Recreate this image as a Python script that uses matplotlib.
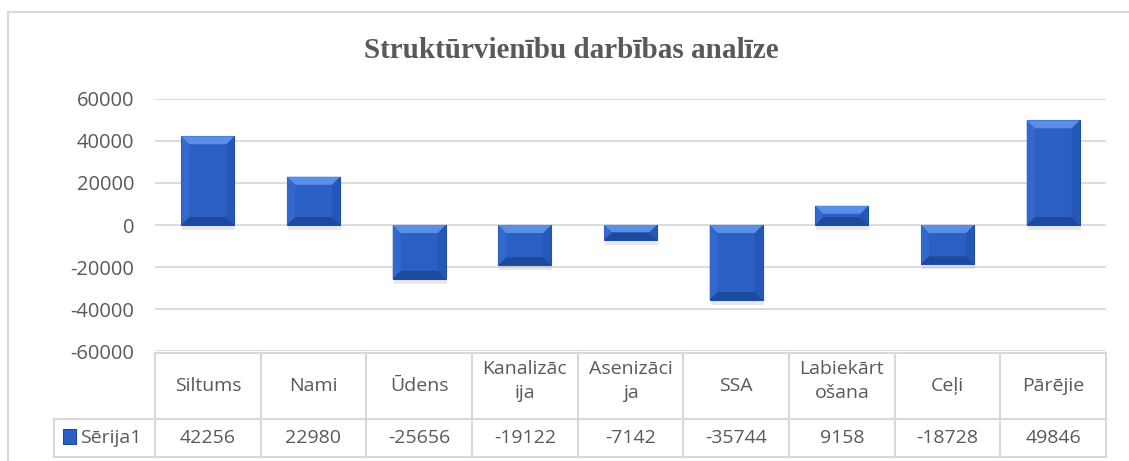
import matplotlib.pyplot as plt
import matplotlib.patches as patches
from matplotlib.lines import Line2D

plt.rcParams['axes.unicode_minus'] = False

# chart data
categories = ['Siltums', 'Nami', 'Ūdens', 'Kanalizāc\nija', 'Asenizāci\nja',
              'SSA', 'Labiekārt\nošana', 'Ceļi', 'Pārējie']
values = [42256, 22980, -25656, -19122, -7142, -35744, 9158, -18728, 49846]
series_name = 'Sērija1'
title = 'Struktūrvienību darbības analīze'
yticks = [-60000, -40000, -20000, 0, 20000, 40000, 60000]

W, H = 1129, 461
fig = plt.figure(figsize=(W / 100, H / 100), dpi=100)

# pixel helpers (top-left origin)
def fx(px):
    return px / W

def fy(py):
    return 1 - py / H

text_col = '#595959'
grid_col = '#D9D9D9'
fs = 14

left, right = 155, 1106
top, bottom = 99, 351
ax = fig.add_axes([fx(left), fy(bottom), fx(right - left), fy(top) - fy(bottom)])
n = len(categories)
ax.set_xlim(-0.5, n - 0.5)
ax.set_ylim(yticks[0], yticks[-1])
ax.set_yticks(yticks)
ax.set_xticks([])
ax.yaxis.grid(True, color=grid_col, linewidth=1.3)
ax.set_axisbelow(True)
for s in ax.spines.values():
    s.set_visible(False)
ax.tick_params(axis='y', length=0, pad=15, labelsize=14.5, labelcolor=text_col)
for lbl in ax.get_yticklabels():
    lbl.set_family('Open Sans')

# pixel -> data scale factors
px_x = 1.0 / ((right - left) / n)
px_y = (yticks[-1] - yticks[0]) / (bottom - top)

bw = 0.5
face = '#2C5FC4'
light = '#5A8FE8'
dark = '#1E4A9E'
edge = '#1E4FA8'

# shadows
for i, v in enumerate(values):
    y0 = min(0, v)
    h = abs(v)
    sh = patches.Rectangle((i - bw / 2 + 1 * px_x, y0 - 5 * px_y), bw, h,
                           facecolor='#BFBFBF', alpha=0.35, edgecolor='none', zorder=2)
    ax.add_patch(sh)

bars = ax.bar(range(n), values, width=bw, color=face, edgecolor=edge,
              linewidth=0.8, zorder=3)

# bevel effect
for i, v in enumerate(values):
    x0, x1 = i - bw / 2, i + bw / 2
    y0, y1 = min(0, v), max(0, v)
    by = min(8 * px_y, (y1 - y0) / 2)
    bx = 8 * px_x
    topb = patches.Polygon([(x0, y1), (x1, y1), (x1 - bx, y1 - by), (x0 + bx, y1 - by)],
                           closed=True, facecolor=light, edgecolor='none', zorder=4)
    botb = patches.Polygon([(x0, y0), (x1, y0), (x1 - bx, y0 + by), (x0 + bx, y0 + by)],
                           closed=True, facecolor=dark, edgecolor='none', zorder=4)
    lb = patches.Polygon([(x0, y0), (x0 + bx, y0 + by), (x0 + bx, y1 - by), (x0, y1)],
                         closed=True, facecolor='#3468CF', edgecolor='none', zorder=4)
    rb = patches.Polygon([(x1, y0), (x1 - bx, y0 + by), (x1 - bx, y1 - by), (x1, y1)],
                         closed=True, facecolor='#2557B6', edgecolor='none', zorder=4)
    for p in (lb, rb, topb, botb):
        ax.add_patch(p)

# title
fig.text(fx(571), fy(50), title, ha='center', va='center', fontsize=21,
         fontweight='bold', family='Liberation Serif', color=text_col)

# outer chart border
fig.add_artist(Line2D([fx(8), fx(8)], [fy(12), 0], color=grid_col, lw=1.5))
fig.add_artist(Line2D([fx(8), 1], [fy(12), fy(12)], color=grid_col, lw=1.5))

# data table
t_top, t_mid, t_bot = 353, 419, 457
hdr_left = 54
cw = (right - left) / n
lc = '#D9D9D9'

def hline(y, xa, xb):
    fig.add_artist(Line2D([fx(xa), fx(xb)], [fy(y), fy(y)], color=lc, lw=1.5))

def vline(x, ya, yb):
    fig.add_artist(Line2D([fx(x), fx(x)], [fy(ya), fy(yb)], color=lc, lw=1.5))

hline(t_top, left, right)
hline(t_mid, hdr_left, right)
hline(t_bot, hdr_left, right)
vline(hdr_left, t_mid, t_bot)
for k in range(n + 1):
    vline(left + k * cw, t_top, t_bot)

for i, (c, v) in enumerate(zip(categories, values)):
    cx = left + (i + 0.5) * cw
    cy = (t_top + t_mid) / 2 if '\n' not in c else (t_top + t_mid) / 2 - 5
    fig.text(fx(cx), fy(cy), c, ha='center', va='center',
             fontsize=fs, family='Open Sans', color=text_col, linespacing=1.4)
    fig.text(fx(cx), fy((t_mid + t_bot) / 2), str(v), ha='center', va='center',
             fontsize=fs, family='Open Sans', color=text_col)

# legend key + series name
key = patches.Rectangle((fx(63), fy(444)), fx(13), fy(429) - fy(444),
                        transform=fig.transFigure, facecolor=face,
                        edgecolor=dark, lw=0.8)
fig.add_artist(key)
fig.text(fx(80), fy((t_mid + t_bot) / 2), series_name, ha='left', va='center',
         fontsize=fs, family='Open Sans', color=text_col)

fig.savefig('out.png', dpi=100)
